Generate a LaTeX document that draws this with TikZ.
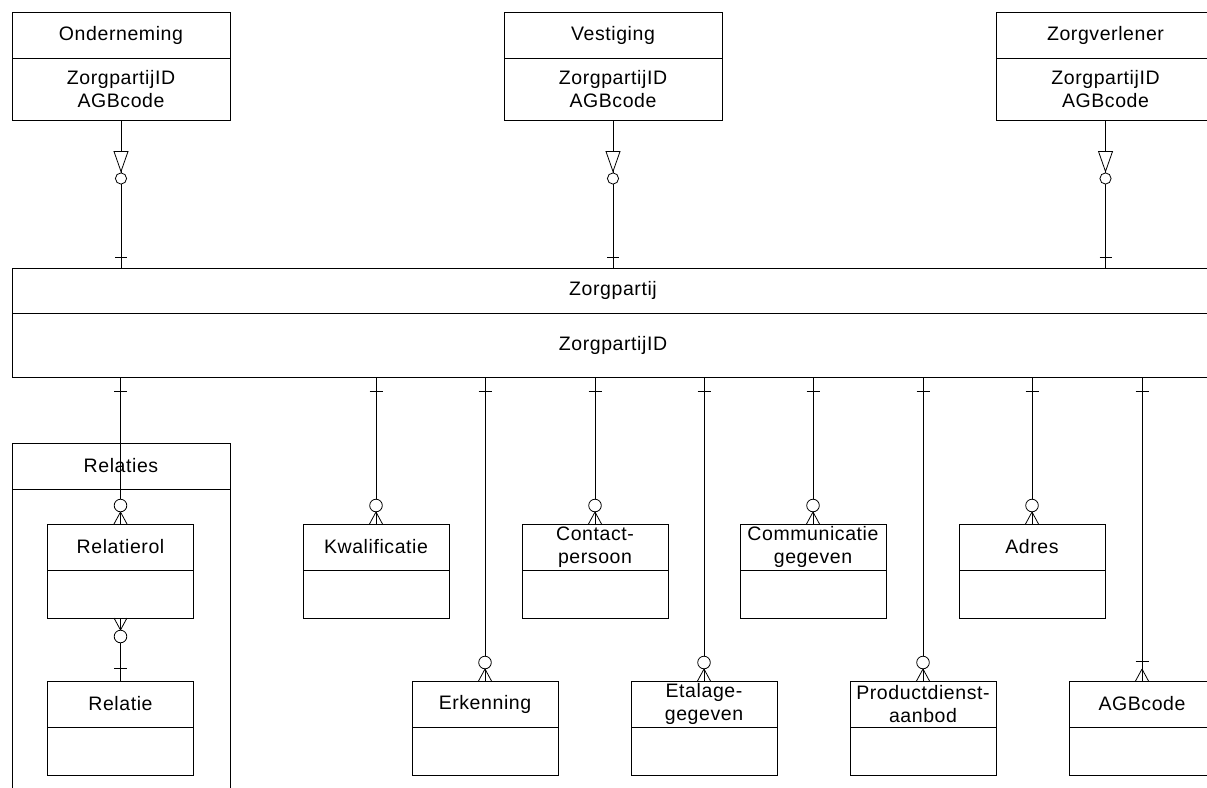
\documentclass[tikz,border=0pt]{standalone}
\usepackage{fontspec}
\setmainfont[LetterSpace=3]{Liberation Sans}
\usetikzlibrary{positioning,decorations.markings}

\begin{document}
\begin{tikzpicture}[
  x=1pt,y=-1pt,line width=0.8pt,
  every node/.style={inner sep=0pt,outer sep=0pt,align=center,font=\fontsize{19.5}{23}\selectfont},
  ehead/.style={draw,minimum width=146,minimum height=46},
  ebody/.style={draw,minimum width=146,minimum height=48},
  phead/.style={draw,minimum width=218,minimum height=46},
  pbody/.style={draw,minimum width=218,minimum height=62},
  isa/.style={postaction={decorate},decoration={markings,
    mark=at position 31pt with {\draw[fill=white] (0pt,7pt) -- (20pt,0pt) -- (0pt,-7pt) -- cycle;},
    mark=at position 58pt with {\draw[fill=white] (0pt,0pt) circle (5.6pt);},
    mark=at position -11pt with {\draw (0pt,-6pt) -- (0pt,6pt);}}},
  zmany/.style={postaction={decorate},decoration={markings,
    mark=at position 14pt with {\draw (0pt,-6.5pt) -- (0pt,6.5pt);},
    mark=at position 1 with {\draw (-12pt,0pt) -- (0pt,6.5pt) (-12pt,0pt) -- (0pt,-6.5pt);
      \draw[fill=white] (-18.5pt,0pt) circle (6.3pt);}}},
  omany/.style={postaction={decorate},decoration={markings,
    mark=at position 14pt with {\draw (0pt,-6.5pt) -- (0pt,6.5pt);},
    mark=at position -20pt with {\draw (0pt,-6.5pt) -- (0pt,6.5pt);},
    mark=at position 1 with {\draw (-12pt,0pt) -- (0pt,6.5pt) (-12pt,0pt) -- (0pt,-6.5pt);}}},
  manyz/.style={postaction={decorate},decoration={markings,
    mark=at position 0 with {\draw (12pt,0pt) -- (0pt,6.5pt) (12pt,0pt) -- (0pt,-6.5pt);
      \draw[fill=white] (18.5pt,0pt) circle (6.3pt);},
    mark=at position -13pt with {\draw (0pt,-6.5pt) -- (0pt,6.5pt);}}},
]
  \useasboundingbox (0,0) rectangle (1207,787);
  \clip (0,0) rectangle (1207,787);

  % supertypes
  \node[phead] (ond) at (121,35.5) {Onderneming};
  \node[pbody,below=0pt of ond] (ondb) {ZorgpartijID\\AGBcode};
  \node[phead] (ves) at (613,35.5) {Vestiging};
  \node[pbody,below=0pt of ves] (vesb) {ZorgpartijID\\AGBcode};
  \node[phead] (zv) at (1105.5,35.5) {Zorgverlener};
  \node[pbody,below=0pt of zv] (zvb) {ZorgpartijID\\AGBcode};

  % central entity
  \node[draw,minimum width=1202,minimum height=45] (zp) at (613,290.5) {Zorgpartij};
  \node[draw,minimum width=1202,minimum height=64,below=0pt of zp] (zpb) {ZorgpartijID};

  % relaties group
  \node[phead] (relg) at (121,466) {Relaties};
  \node[draw,minimum width=218,minimum height=400,below=0pt of relg] (relgb) {};

  % entities, upper row
  \node[ehead] (rol) at (120.5,547) {Relatierol};
  \node[ebody,below=0pt of rol] (rolb) {};
  \node[ehead] (kwal) at (376,547) {Kwalificatie};
  \node[ebody,below=0pt of kwal] (kwalb) {};
  \node[ehead] (cont) at (595,547) {Contact-\\persoon};
  \node[ebody,below=0pt of cont] (contb) {};
  \node[ehead] (comm) at (813,547) {Communicatie\\gegeven};
  \node[ebody,below=0pt of comm] (commb) {};
  \node[ehead] (adr) at (1032,547) {Adres};
  \node[ebody,below=0pt of adr] (adrb) {};

  % entities, lower row
  \node[ehead] (rel) at (120.5,704) {Relatie};
  \node[ebody,below=0pt of rel] (relb) {};
  \node[ehead] (erk) at (485,704) {Erkenning};
  \node[ebody,below=0pt of erk] (erkb) {};
  \node[ehead] (etal) at (704,704) {Etalage-\\gegeven};
  \node[ebody,below=0pt of etal] (etalb) {};
  \node[ehead] (prod) at (923,704) {Productdienst-\\aanbod};
  \node[ebody,below=0pt of prod] (prodb) {};
  \node[ehead] (agb) at (1142,704) {AGBcode};
  \node[ebody,below=0pt of agb] (agbb) {};

  % subtype links
  \draw[isa] (ondb.south) -- (zp.north -| ondb.south);
  \draw[isa] (vesb.south) -- (zp.north -| vesb.south);
  \draw[isa] (zvb.south) -- (zp.north -| zvb.south);

  % relationships
  \draw[zmany] (zpb.south -| rol.north) -- (rol.north);
  \draw[zmany] (zpb.south -| kwal.north) -- (kwal.north);
  \draw[zmany] (zpb.south -| erk.north) -- (erk.north);
  \draw[zmany] (zpb.south -| cont.north) -- (cont.north);
  \draw[zmany] (zpb.south -| etal.north) -- (etal.north);
  \draw[zmany] (zpb.south -| comm.north) -- (comm.north);
  \draw[zmany] (zpb.south -| prod.north) -- (prod.north);
  \draw[zmany] (zpb.south -| adr.north) -- (adr.north);
  \draw[omany] (zpb.south -| agb.north) -- (agb.north);
  \draw[manyz] (rolb.south) -- (rel.north);
\end{tikzpicture}
\end{document}
